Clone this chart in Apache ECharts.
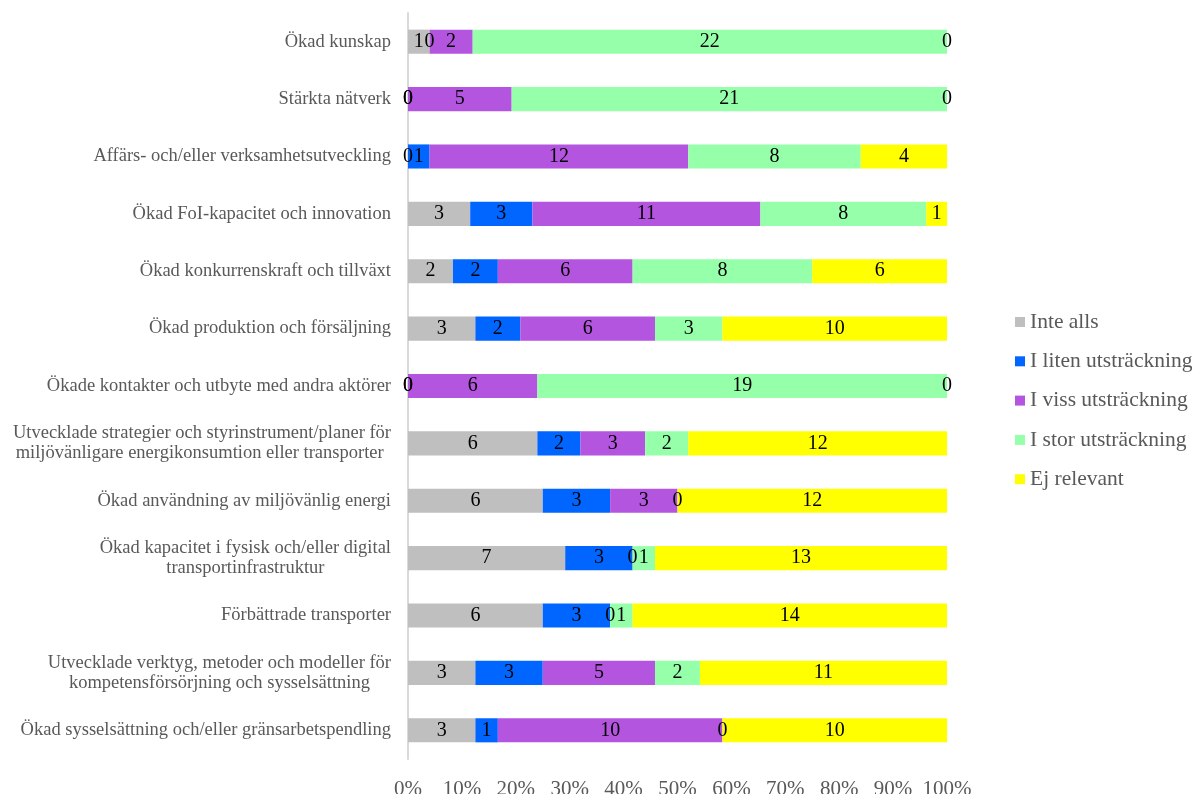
<!DOCTYPE html>
<html>
<head>
<meta charset="utf-8">
<script src="https://cdn.jsdelivr.net/npm/echarts@6/dist/echarts.min.js"></script>
<style>
  html, body { margin: 0; padding: 0; background: #fff; }
  #chart { width: 1193px; height: 794px; }
</style>
</head>
<body>
<div id="chart"></div>
<script>
// categories, top to bottom
var categories = [
  'Ökad kunskap',
  'Stärkta nätverk',
  'Affärs- och/eller verksamhetsutveckling',
  'Ökad FoI-kapacitet och innovation',
  'Ökad konkurrenskraft och tillväxt',
  'Ökad produktion och försäljning',
  'Ökade kontakter och utbyte med andra aktörer',
  'Utvecklade strategier och styrinstrument/planer för\nmiljövänligare energikonsumtion eller transporter ',
  'Ökad användning av miljövänlig energi',
  'Ökad kapacitet i fysisk och/eller digital\ntransportinfrastruktur',
  'Förbättrade transporter',
  'Utvecklade verktyg, metoder och modeller för\nkompetensförsörjning och sysselsättning',
  'Ökad sysselsättning och/eller gränsarbetspendling'
];

var seriesNames = ['Inte alls', 'I liten utsträckning', 'I viss utsträckning', 'I stor utsträckning', 'Ej relevant'];
var colors = ['#bfbfbf', '#0066ff', '#b455e0', '#96ffaa', '#ffff00'];

// raw counts per answer (same order as categories)
var inteAlls    = [1, 0, 0, 3, 2, 3, 0, 6, 6, 7, 6, 3, 3];
var litenUtstr  = [0, 0, 1, 3, 2, 2, 0, 2, 3, 3, 3, 3, 1];
var vissUtstr   = [2, 5, 12, 11, 6, 6, 6, 3, 3, 0, 0, 5, 10];
var storUtstr   = [22, 21, 8, 8, 8, 3, 19, 2, 0, 1, 1, 2, 0];
var ejRelevant  = [0, 0, 4, 1, 6, 10, 0, 12, 12, 13, 14, 11, 10];

var xTicks = [0, 10, 20, 30, 40, 50, 60, 70, 80, 90, 100];

var allValues = [inteAlls, litenUtstr, vissUtstr, storUtstr, ejRelevant];
var totals = categories.map(function (c, i) {
  return allValues.reduce(function (s, arr) { return s + arr[i]; }, 0);
});

var series = allValues.map(function (arr, k) {
  return {
    name: seriesNames[k],
    type: 'bar',
    stack: 'total',
    barWidth: '42%',
    itemStyle: { color: colors[k] },
    label: {
      show: true,
      position: 'inside',
      color: '#000',
      fontFamily: 'Liberation Serif',
      fontSize: 20,
      formatter: function (p) { return p.data.raw; }
    },
    data: arr.map(function (v, i) {
      return { value: v / totals[i] * 100, raw: v };
    })
  };
});

var myChart = echarts.init(document.getElementById('chart'));
myChart.setOption({
  animation: false,
  color: colors,
  textStyle: { fontFamily: 'Liberation Serif' },
  grid: { left: 408, right: 246, top: 13, bottom: 35, outerBoundsMode: 'none' },
  legend: {
    orient: 'vertical',
    left: 1010,
    top: 306,
    itemWidth: 10,
    itemHeight: 10,
    itemGap: 17.3,
    icon: 'rect',
    textStyle: { color: '#595959', fontSize: 21.5, fontFamily: 'Liberation Serif' },
    data: seriesNames
  },
  xAxis: {
    type: 'value',
    min: 0,
    max: 100,
    interval: 10,
    axisLine: { show: false },
    axisTick: { show: false },
    splitLine: { show: false },
    axisLabel: {
      color: '#595959',
      fontSize: 21,
      margin: 20,
      formatter: function (v) { return xTicks.indexOf(v) >= 0 ? v + '%' : ''; }
    }
  },
  yAxis: {
    type: 'category',
    inverse: true,
    data: categories,
    axisTick: { show: false },
    axisLine: { show: true, lineStyle: { color: '#d9d9d9', width: 2 } },
    axisLabel: {
      color: '#595959',
      fontSize: 18.5,
      margin: 17,
      lineHeight: 20,
      formatter: function (v) {
        return v.split('\n').map(function (l) { return '{c|' + l + '}'; }).join('\n');
      },
      rich: { c: { align: 'center', color: '#595959', fontSize: 18.5, lineHeight: 20, fontFamily: 'Liberation Serif' } }
    }
  },
  series: series
});
</script>
</body>
</html>
